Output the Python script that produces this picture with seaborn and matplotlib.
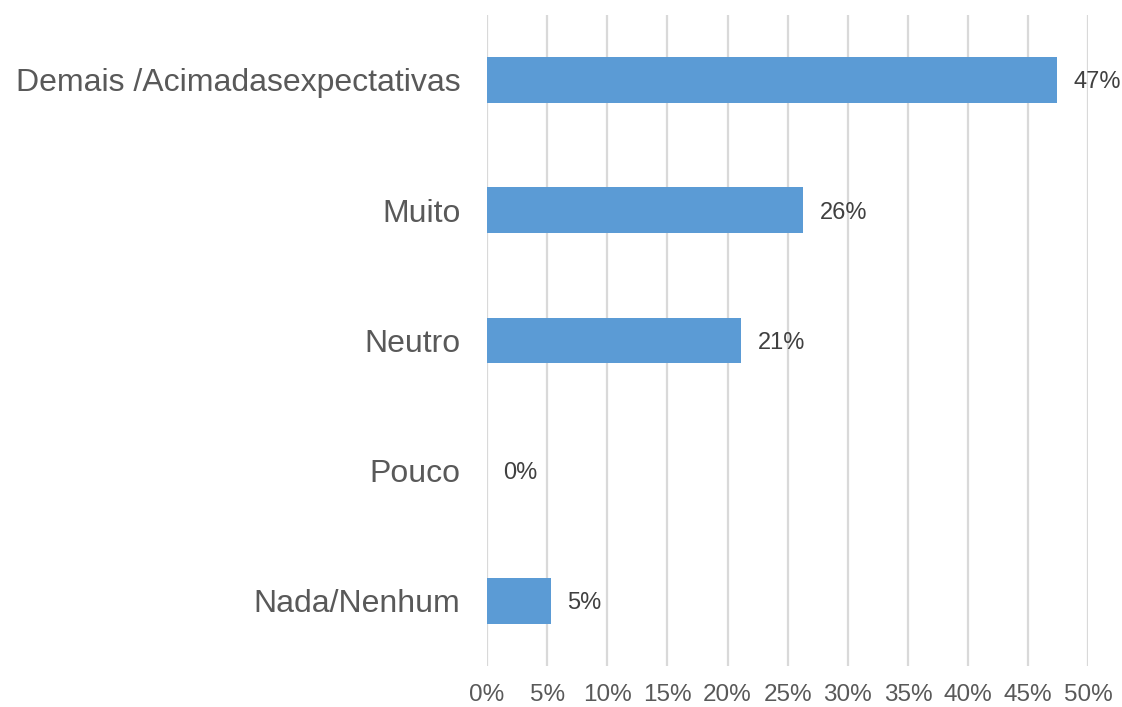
import matplotlib
matplotlib.use("Agg")
import matplotlib.pyplot as plt
import seaborn as sns
import pandas as pd
from matplotlib.ticker import MultipleLocator, PercentFormatter

sns.set_theme(style="white")
plt.rcParams['font.family'] = ['Liberation Sans', 'DejaVu Sans']

categories = ["Demais /Acimadasexpectativas", "Muito", "Neutro", "Pouco", "Nada/Nenhum"]
shares = [0.474, 0.263, 0.211, 0.0, 0.053]
value_labels = ["47%", "26%", "21%", "0%", "5%"]

df = pd.DataFrame({"categoria": categories, "share": shares})

fig = plt.figure(figsize=(11.22, 7.07), dpi=100)
ax = fig.add_axes([0.434, 0.058, 0.536, 0.921])

sns.barplot(data=df, x="share", y="categoria", orient="h", color="#5B9BD5",
            saturation=1, width=0.35, linewidth=0, ax=ax, zorder=3)

ax.set_xlim(0, 0.5)
ax.xaxis.set_major_locator(MultipleLocator(0.05))
ax.xaxis.set_major_formatter(PercentFormatter(1.0, decimals=0))
ax.grid(axis="x", color="#D9D9D9", linewidth=1.6, zorder=0)
ax.set_axisbelow(True)
for s in ax.spines.values():
    s.set_visible(False)

txts = ax.bar_label(ax.containers[0], labels=value_labels, padding=12,
                    fontsize=17, color="#404040")
for t in txts:
    t.set_va("center_baseline")

ax.set_xlabel("")
ax.set_ylabel("")
ax.tick_params(axis="x", labelsize=17.5, colors="#595959", length=0, pad=13)
ax.tick_params(axis="y", labelsize=23, colors="#595959", length=0, pad=19)

fig.savefig("out.png", dpi=100)
